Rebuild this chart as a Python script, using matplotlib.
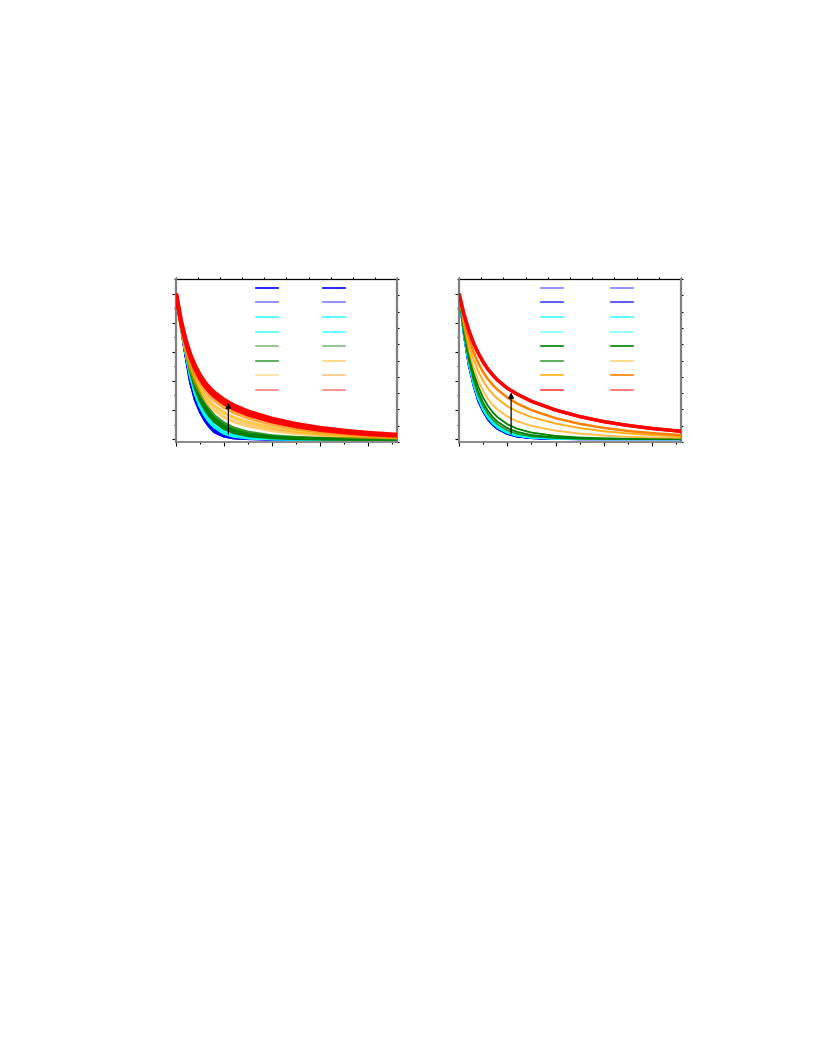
import matplotlib
matplotlib.use("Agg")
import matplotlib.pyplot as plt
from matplotlib.lines import Line2D
from matplotlib.ticker import MultipleLocator

# sample positions along x (same for every curve)
x = [0, 0.1, 0.2, 0.3, 0.4, 0.5, 0.6, 0.7, 0.8, 1.0, 1.2, 1.5, 2.0, 2.5, 3.0, 3.5, 4.0, 4.6]

# left panel curves
l_blue = [1.0, 0.79, 0.58, 0.39, 0.27, 0.19, 0.13, 0.085, 0.05, 0.02, 0.008, 0.003, 0.001, 0, 0, 0, 0, 0]
l_blue2 = [1.0, 0.79, 0.59, 0.41, 0.29, 0.205, 0.145, 0.10, 0.065, 0.028, 0.012, 0.004, 0.001, 0, 0, 0, 0, 0]
l_cyan = [1.0, 0.79, 0.60, 0.43, 0.31, 0.225, 0.163, 0.117, 0.083, 0.04, 0.02, 0.008, 0.002, 0.001, 0, 0, 0, 0]
l_cyan2 = [1.0, 0.79, 0.61, 0.44, 0.32, 0.235, 0.172, 0.125, 0.09, 0.046, 0.024, 0.01, 0.003, 0.001, 0, 0, 0, 0]
l_green1 = [1.0, 0.80, 0.64, 0.50, 0.39, 0.31, 0.245, 0.20, 0.16, 0.11, 0.077, 0.048, 0.023, 0.012, 0.006, 0.003, 0.001, 0]
l_green2 = [1.0, 0.80, 0.63, 0.48, 0.37, 0.29, 0.225, 0.177, 0.14, 0.09, 0.06, 0.034, 0.015, 0.007, 0.003, 0.001, 0, 0]
l_green3 = [1.0, 0.79, 0.62, 0.465, 0.35, 0.265, 0.205, 0.158, 0.12, 0.072, 0.045, 0.023, 0.009, 0.003, 0.001, 0, 0, 0]
l_orange1 = [1.0, 0.80, 0.651, 0.539, 0.454, 0.389, 0.339, 0.298, 0.266, 0.217, 0.182, 0.144, 0.101, 0.072, 0.051, 0.037, 0.026, 0.018]
l_orange2 = [1.0, 0.785, 0.626, 0.508, 0.419, 0.352, 0.300, 0.260, 0.228, 0.181, 0.148, 0.115, 0.078, 0.054, 0.037, 0.026, 0.018, 0.012]
l_orange3 = [1.0, 0.773, 0.606, 0.483, 0.390, 0.322, 0.269, 0.229, 0.197, 0.151, 0.120, 0.090, 0.059, 0.039, 0.027, 0.018, 0.012, 0.008]
l_red1 = [1.0, 0.818, 0.682, 0.579, 0.501, 0.439, 0.390, 0.351, 0.319, 0.270, 0.232, 0.190, 0.140, 0.104, 0.077, 0.058, 0.043, 0.030]
l_red2 = [1.0, 0.810, 0.668, 0.561, 0.480, 0.417, 0.367, 0.327, 0.295, 0.246, 0.209, 0.169, 0.122, 0.088, 0.064, 0.047, 0.034, 0.024]

# right panel curves
r_blue = [1.0, 0.72, 0.51, 0.37, 0.26, 0.19, 0.135, 0.097, 0.07, 0.036, 0.018, 0.007, 0.001, 0, 0, 0, 0, 0]
r_blue2 = [1.0, 0.73, 0.525, 0.38, 0.272, 0.198, 0.142, 0.103, 0.074, 0.039, 0.02, 0.008, 0.002, 0, 0, 0, 0, 0]
r_cyan = [1.0, 0.725, 0.525, 0.38, 0.277, 0.202, 0.148, 0.108, 0.079, 0.043, 0.024, 0.01, 0.003, 0.001, 0, 0, 0, 0]
r_cyan2 = [1.0, 0.73, 0.535, 0.39, 0.285, 0.21, 0.155, 0.114, 0.084, 0.047, 0.027, 0.012, 0.004, 0.001, 0, 0, 0, 0]
r_green1 = [1.0, 0.76, 0.585, 0.455, 0.36, 0.285, 0.228, 0.184, 0.15, 0.103, 0.072, 0.045, 0.022, 0.011, 0.006, 0.003, 0.002, 0.001]
r_green2 = [1.0, 0.745, 0.56, 0.425, 0.325, 0.25, 0.194, 0.151, 0.119, 0.076, 0.05, 0.028, 0.012, 0.005, 0.002, 0.001, 0, 0]
r_green3 = [1.0, 0.735, 0.545, 0.405, 0.303, 0.228, 0.173, 0.132, 0.101, 0.061, 0.037, 0.019, 0.007, 0.002, 0.001, 0, 0, 0]
r_orange2 = [1.0, 0.828, 0.698, 0.599, 0.522, 0.460, 0.412, 0.372, 0.339, 0.286, 0.245, 0.199, 0.144, 0.105, 0.077, 0.056, 0.041, 0.028]
r_orange3 = [1.0, 0.804, 0.658, 0.549, 0.464, 0.400, 0.349, 0.309, 0.277, 0.226, 0.191, 0.151, 0.107, 0.076, 0.054, 0.039, 0.028, 0.019]
r_orange4 = [1.0, 0.778, 0.613, 0.492, 0.400, 0.330, 0.277, 0.235, 0.203, 0.156, 0.123, 0.091, 0.058, 0.038, 0.025, 0.016, 0.011, 0.007]
r_red = [1.0, 0.86, 0.75, 0.66, 0.59, 0.53, 0.48, 0.44, 0.405, 0.35, 0.31, 0.26, 0.20, 0.155, 0.12, 0.094, 0.073, 0.054]

# series in legend order (first column, then second column)
left_series = [l_blue, l_blue2, l_cyan, l_cyan2, l_green1, l_green2, l_orange3, l_red2,
               l_blue, l_blue2, l_cyan, l_cyan2, l_green3, l_orange2, l_orange1, l_red1]
right_series = [r_blue, r_blue2, r_cyan, r_cyan2, r_green2, r_green3, r_orange3, r_red,
                r_blue, r_blue2, r_cyan, r_cyan2, r_green1, r_orange4, r_orange2, r_red]

# arrows: x, start, end
left_arrow = [1.09, 0.015, 0.27]
right_arrow = [1.08, 0.015, 0.34]

# styles
left_colors = ["#0000ff", "#0000ff", "#00ffff", "#00ffff", "#008000", "#008000", "#ffa500", "#ff0000",
               "#0000ff", "#0000ff", "#00ffff", "#00ffff", "#008000", "#ffb000", "#ff8c00", "#ff0000"]
left_alpha = [1, .5, .8, .7, .5, .75, .4, .5, 1, .5, .8, .7, .5, .55, .5, .5]
left_line_alpha = [1, 1, 1, 1, .8, 1, .55, 1, 1, 1, 1, 1, 1, .7, .75, 1]
left_lw = [2, 2, 2, 2, 2.2, 2.2, 2.4, 3.0, 2, 2, 2, 2, 2.2, 2.4, 2.4, 3.0]

right_colors = ["#0000ff", "#0000ff", "#00ffff", "#00ffff", "#008000", "#008000", "#ffa500", "#ff0000",
                "#0000ff", "#0000ff", "#00ffff", "#00ffff", "#008000", "#ffa500", "#ff8000", "#ff0000"]
right_alpha = [.5, .75, .75, .5, 1, .75, .9, .75, .5, .75, .75, .5, 1, .5, 1, .6]
right_line_alpha = [1, 1, .9, .8, 1, .8, .9, 1, 1, 1, .9, .8, 1, .7, 1, 1]
right_lw = [1.4, 1.4, 1.4, 1.4, 1.3, 1.3, 1.4, 2.4, 1.4, 1.4, 1.4, 1.4, 1.3, 1.4, 1.8, 2.4]

fig = plt.figure(figsize=(8.16, 10.56), dpi=100)


def panel(rect, series, colors, alphas, line_alphas, lws, arrow, leg_x, col_space):
	ax = fig.add_axes(rect)
	# draw row by row so that the red curves end up on top
	for row in range(8):
		for col in range(2):
			i = col * 8 + row
			ax.plot(x, series[i], color=colors[i], alpha=line_alphas[i], lw=lws[i],
				solid_capstyle="butt", zorder=2 + row)
	ax.annotate("", xy=(arrow[0], arrow[2]), xytext=(arrow[0], arrow[1]),
		arrowprops=dict(arrowstyle="-|>", color="black", lw=0.9, mutation_scale=8),
		zorder=20)
	ax.set_xlim(0, 4.6)
	ax.set_ylim(-0.02, 1.10)
	ax.xaxis.set_major_locator(MultipleLocator(1))
	ax.xaxis.set_minor_locator(MultipleLocator(0.5))
	ax.yaxis.set_major_locator(MultipleLocator(0.2))
	ax.yaxis.set_minor_locator(MultipleLocator(0.1))
	ax.tick_params(which="both", direction="out", labelleft=False, labelbottom=False,
		color="black", width=0.8)
	ax.tick_params(which="major", length=3)
	ax.tick_params(which="minor", length=1.5)
	ax.spines["left"].set(color="#808080", lw=1.6)
	ax.spines["bottom"].set(color="#808080", lw=1.3)
	ax.spines["top"].set_visible(False)
	ax.spines["right"].set_visible(False)

	top = ax.secondary_xaxis("top", functions=(lambda v: v / 4.6 * 10, lambda t: t * 4.6 / 10))
	top.set_xticks(range(11))
	top.tick_params(direction="out", length=1.2, width=0.8, labeltop=False)
	top.spines["top"].set(color="black", lw=0.9)
	right = ax.secondary_yaxis("right", functions=(lambda v: (v + 0.02) / 1.12 * 10,
		lambda t: t * 1.12 / 10 - 0.02))
	right.set_yticks(range(11))
	right.tick_params(direction="out", length=1.2, width=0.8, labelright=False)
	right.spines["right"].set(color="#808080", lw=1.6)

	handles = [Line2D([], [], color=colors[i], alpha=alphas[i], lw=1.2) for i in range(16)]
	ax.legend(handles, [""] * 16, ncol=2, frameon=False, loc="upper left",
		bbox_to_anchor=(leg_x, 0.974), borderpad=0, borderaxespad=0, fontsize=7,
		handlelength=2.26, handletextpad=0, columnspacing=col_space, labelspacing=0.47)
	return ax


panel([0.2157, 0.5814, 0.2708, 0.1544], left_series, left_colors, left_alpha,
	left_line_alpha, left_lw, left_arrow, 0.362, 4.63)
panel([0.5625, 0.5814, 0.2721, 0.1544], right_series, right_colors, right_alpha,
	right_line_alpha, right_lw, right_arrow, 0.369, 4.95)

fig.savefig("out.png", dpi=100)
